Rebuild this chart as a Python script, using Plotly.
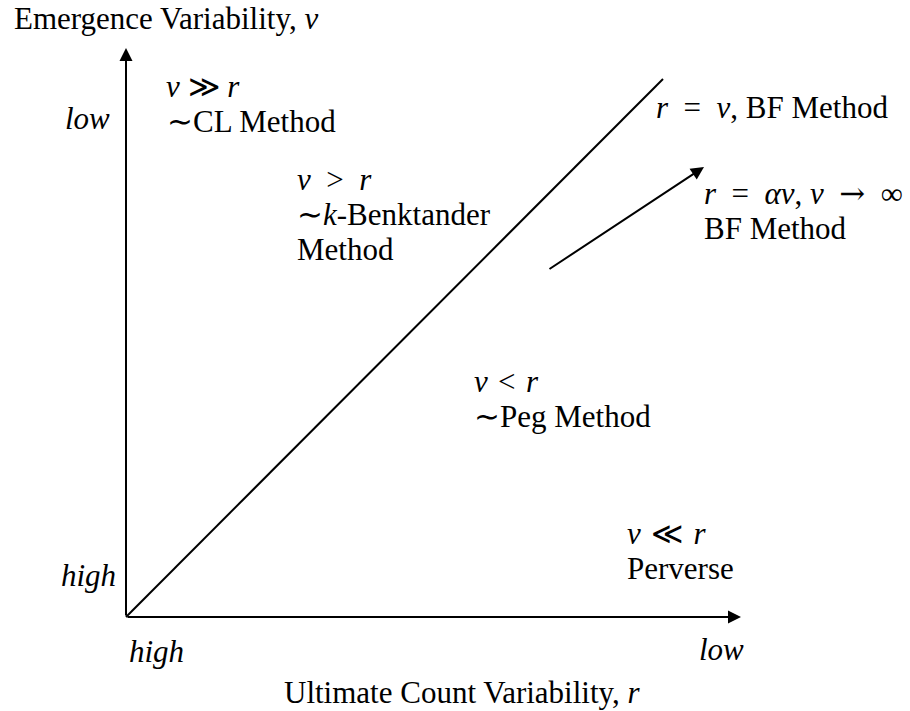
import plotly.graph_objects as go

# Diagram geometry (pixel-like diagram coordinates, y downwards)
origin = (126, 617)
y_axis_tip = (126, 48)
x_axis_tip = (741, 617)
diag_end = (663, 79)
arrow_start = (548, 270)
arrow_end = (704, 167)

S = "\u00a0\u00a0"       # wide math spacing around relations
S1 = "\u00a0"            # narrower spacing for wide glyphs
S2 = "\u00a0\u200a"
ARROW = "<span style=\"font-family:'DejaVu Serif'\">→</span>"

# Text labels: (x, y, text)
labels = [
    (12, 18, "Emergence Variability, <i>v</i>"),
    (63, 118, "<i>low</i>"),
    (164, 86, f"<i>v</i>{S1}≫{S1}<i>r</i>"),
    (165, 121, "∼CL Method"),
    (295, 179, f"<i>v</i>{S}&gt;{S}<i>r</i>"),
    (295, 214, "∼<i>k</i>-Benktander"),
    (295, 249, "Method"),
    (654, 107, f"<i>r</i>{S}={S}<i>v</i>, BF Method"),
    (702, 193, f"<i>r</i>{S}={S}<i>αv</i>, <i>v</i>{S}{ARROW}{S}∞"),
    (702, 228, "BF Method"),
    (472, 381, f"<i>v</i>{S2}&lt;{S2}<i>r</i>"),
    (472, 416, "∼Peg Method"),
    (625, 533, f"<i>v</i>{S2}≪{S2}<i>r</i>"),
    (625, 568, "Perverse"),
    (59, 575, "<i>high</i>"),
    (127, 651, "<i>high</i>"),
    (697, 649, "<i>low</i>"),
]
x_title = (462, 692, "Ultimate Count Variability, <i>r</i>")

FONT = "Liberation Serif"
FS = 31

fig = go.Figure()
fig.add_trace(go.Scatter(x=[origin[0], diag_end[0]], y=[origin[1], diag_end[1]],
                         mode="lines", line=dict(color="black", width=2),
                         hoverinfo="skip", showlegend=False))

ann = []
for (x0, y0), (x1, y1) in [(origin, y_axis_tip), (origin, x_axis_tip), (arrow_start, arrow_end)]:
    ann.append(dict(x=x1, y=y1, ax=x0, ay=y0, xref="x", yref="y", axref="x", ayref="y",
                    text="", showarrow=True, arrowhead=2, arrowsize=1.3, arrowwidth=2,
                    arrowcolor="black", standoff=0, startstandoff=0))
for x, y, t in labels:
    ann.append(dict(x=x, y=y, xref="x", yref="y", text=t, showarrow=False,
                    xanchor="left", yanchor="middle",
                    font=dict(family=FONT, size=FS, color="black")))
ann.append(dict(x=x_title[0], y=x_title[1], xref="x", yref="y", text=x_title[2],
                showarrow=False, xanchor="center", yanchor="middle",
                font=dict(family=FONT, size=FS, color="black")))

fig.update_layout(
    width=910, height=711, autosize=False,
    margin=dict(l=0, r=0, t=0, b=0),
    paper_bgcolor="white", plot_bgcolor="white",
    xaxis=dict(range=[0, 910], visible=False, fixedrange=True),
    yaxis=dict(range=[711, 0], visible=False, fixedrange=True),
    annotations=ann,
    showlegend=False,
)
fig.write_html("out.html")
